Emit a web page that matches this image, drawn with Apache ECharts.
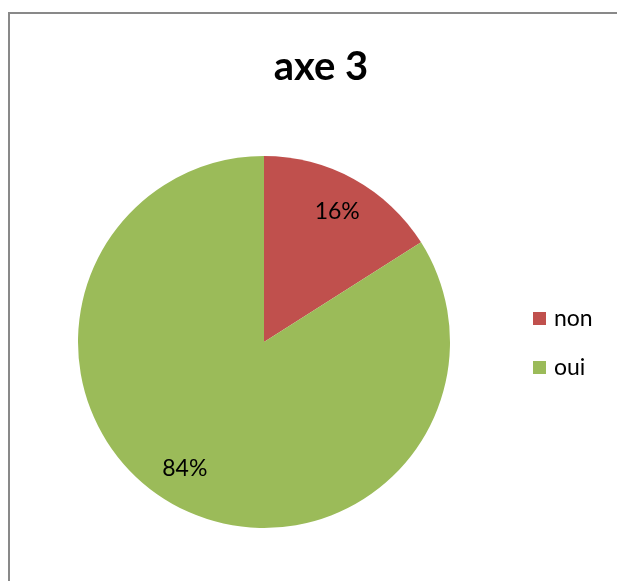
<!DOCTYPE html>
<html>
<head>
<meta charset="utf-8">
<script src="https://cdn.jsdelivr.net/npm/echarts@6/dist/echarts.min.js"></script>
<style>
  html, body { margin: 0; padding: 0; background: #fff; }
  #chart { width: 617px; height: 581px; }
</style>
</head>
<body>
<div id="chart"></div>
<script>
// Answers for "axe 3"
const categories = ['non', 'oui'];
const values = [16, 84];
const colors = ['#C0504D', '#9BBB59'];
const titleText = 'axe 3';

const font = 'Lato, "Open Sans", sans-serif';
const slices = categories.map((name, i) => ({ name, value: values[i], itemStyle: { color: colors[i] } }));
const total = values.reduce((a, b) => a + b, 0);

const chart = echarts.init(document.getElementById('chart'), null, { renderer: 'canvas' });
chart.setOption({
  animation: false,
  backgroundColor: '#fff',
  graphic: [{
    type: 'rect',
    shape: { x: 9, y: 13, width: 700, height: 700 },
    style: { fill: 'none', stroke: '#898989', lineWidth: 2 },
    silent: true,
    z: 0
  }],
  title: {
    text: titleText,
    left: 316,
    textAlign: 'center',
    top: 42,
    textStyle: { fontFamily: font, fontWeight: 'bold', fontSize: 40, color: '#000' }
  },
  legend: {
    orient: 'vertical',
    left: 528,
    top: 302,
    itemWidth: 13,
    itemHeight: 13,
    itemGap: 26,
    icon: 'rect',
    data: categories,
    textStyle: { fontFamily: font, fontSize: 23, color: '#000', lineHeight: 22, padding: [0, 0, 0, 3] }
  },
  series: [{
    type: 'pie',
    center: [264, 342],
    radius: [0, 186],
    startAngle: 90,
    clockwise: true,
    label: { show: false },
    labelLine: { show: false },
    data: slices
  }, {
    // transparent ring that carries the percentage labels inside each slice
    type: 'pie',
    center: [264, 342],
    radius: [112, 186],
    startAngle: 90,
    clockwise: true,
    silent: true,
    itemStyle: { color: 'rgba(0,0,0,0)' },
    label: {
      show: true,
      position: 'inside',
      fontFamily: font,
      fontSize: 23,
      color: '#000',
      formatter: p => Math.round(p.value / total * 100) + '%'
    },
    labelLine: { show: false },
    data: categories.map((name, i) => ({
      name,
      value: values[i],
      itemStyle: { color: 'rgba(0,0,0,0)' },
      label: { offset: i === 0 ? [0, 3] : [-6, -7] }
    }))
  }]
});
</script>
</body>
</html>
